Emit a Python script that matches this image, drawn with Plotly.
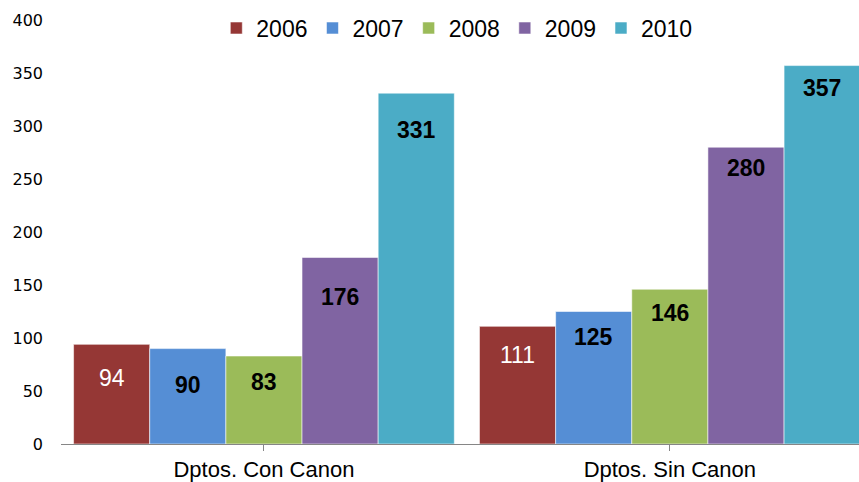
import plotly.graph_objects as go

categories = ["Dptos. Con Canon", "Dptos. Sin Canon"]
years = ["2006", "2007", "2008", "2009", "2010"]
values_2006 = [94, 111]
values_2007 = [90, 125]
values_2008 = [83, 146]
values_2009 = [176, 280]
values_2010 = [331, 357]
y_ticks = [0, 50, 100, 150, 200, 250, 300, 350, 400]

series = [values_2006, values_2007, values_2008, values_2009, values_2010]
colors = ["#953735", "#558ED5", "#9BBB59", "#8064A2", "#4BACC6"]
# label styling per series: the first series uses plain white text
label_colors = ["white", "black", "black", "black", "black"]
label_bold = [False, True, True, True, True]
# how far below each bar top the value label sits (px), per category
label_drop = [[34, 36, 26, 40, 37], [29, 25, 24, 21, 22]]

bargap = 0.062
bar_w = (1 - bargap) / len(years)

fig = go.Figure()
for yr, vals, col in zip(years, series, colors):
    fig.add_trace(go.Bar(
        name=yr, x=categories, y=vals,
        marker=dict(color=col, line=dict(color="rgba(255,255,255,0.55)", width=1)),
    ))

annotations = []
for si, vals in enumerate(series):
    for ci, v in enumerate(vals):
        txt = f"<b>{v}</b>" if label_bold[si] else str(v)
        annotations.append(dict(
            x=ci + (si - 2) * bar_w, y=v, xref="x", yref="y",
            text=txt, showarrow=False,
            yshift=-label_drop[ci][si],
            font=dict(family="Liberation Sans, Arial", size=23, color=label_colors[si]),
        ))

fig.update_layout(
    width=859, height=482,
    margin=dict(l=61, r=0, t=20, b=38),
    paper_bgcolor="white", plot_bgcolor="white",
    barmode="group", bargap=bargap, bargroupgap=0,
    showlegend=True,
    legend=dict(
        orientation="h", x=0.496, xanchor="center", y=0.981, yref="paper",
        yanchor="middle", font=dict(family="Liberation Sans, Arial", size=23, color="black"),
        itemwidth=30, traceorder="normal", bgcolor="rgba(0,0,0,0)",
    ),
    annotations=annotations,
    xaxis=dict(
        type="category", range=[-0.5, 1.466],
        showline=True, linecolor="#868686", linewidth=1,
        ticks="outside", ticklen=6, tickcolor="#868686",
        tickfont=dict(family="Liberation Sans, Arial", size=22, color="black"),
        showgrid=False, zeroline=False, fixedrange=True,
    ),
    yaxis=dict(
        range=[0, 400], tickvals=y_ticks,
        showline=False, showgrid=False, zeroline=False,
        ticks="", ticklabelstandoff=17,
        tickfont=dict(family="DejaVu Sans", size=16, color="black"),
        fixedrange=True,
    ),
)

fig.write_html("out.html")
